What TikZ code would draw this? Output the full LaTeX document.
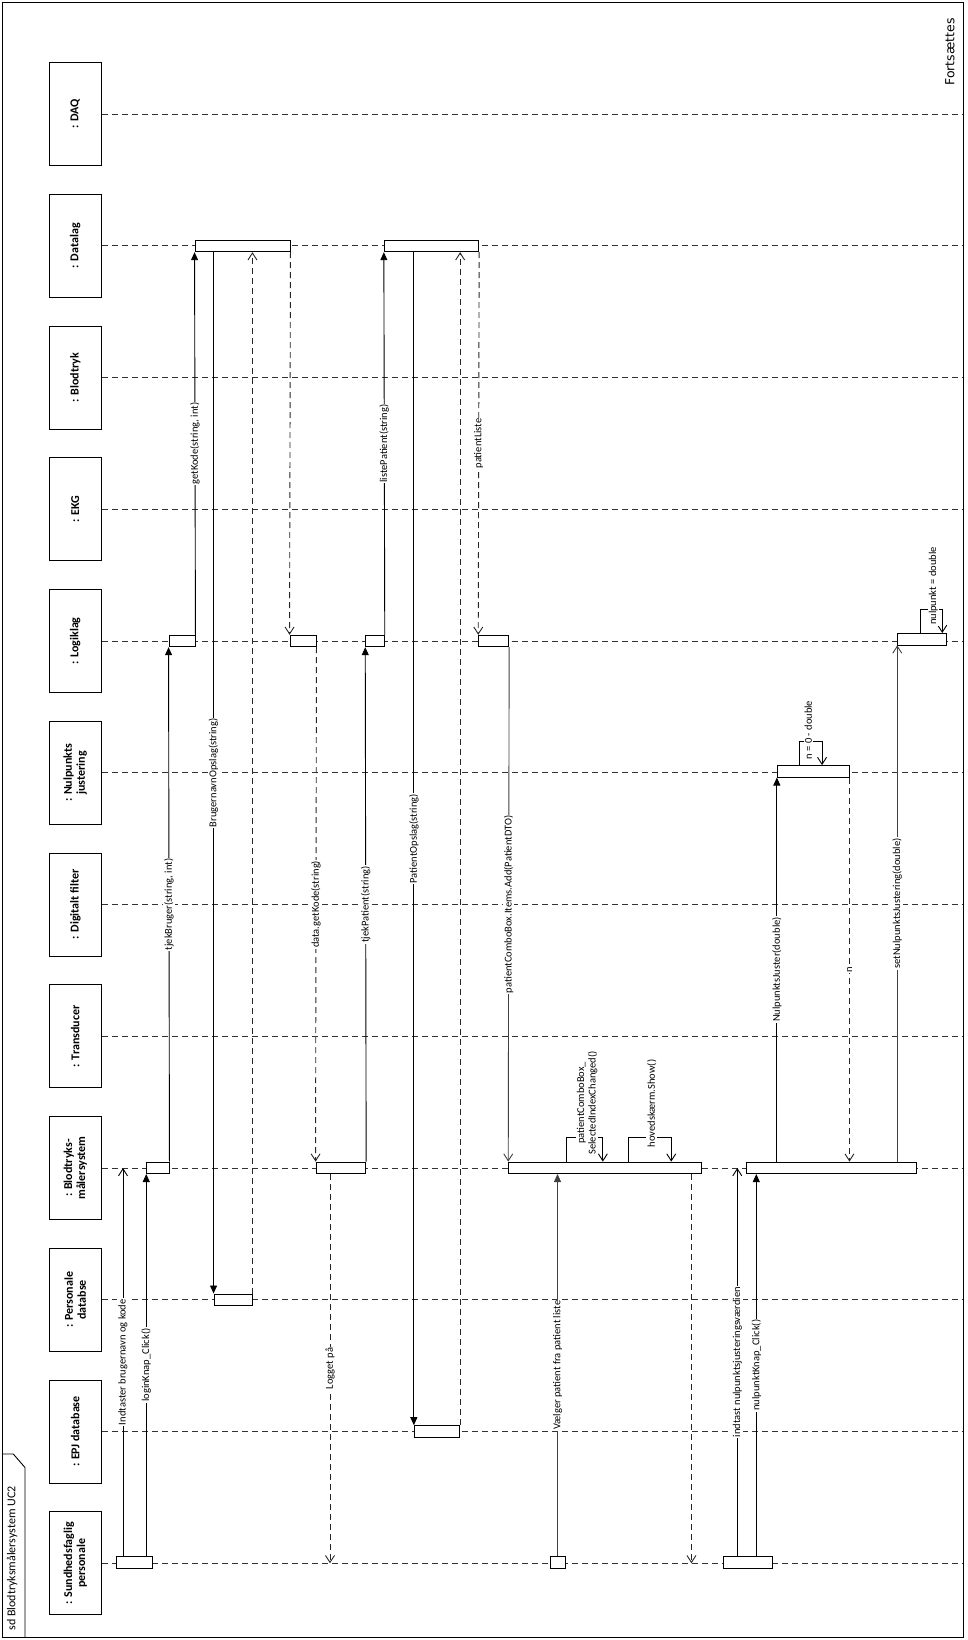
\documentclass[tikz,border=0pt]{standalone}
\usepackage{fontspec}
\setmainfont{Carlito}
\newfontfamily\notefont{DejaVu Sans}
\usetikzlibrary{arrows.meta}

\begin{document}
\begin{tikzpicture}[
    x=1pt, y=-1pt,
    line width=0.9pt,
    part/.style={draw, minimum width=52pt, minimum height=103pt, inner sep=0pt},
    ptxt/.style={rotate=90, align=center, font=\fontsize{12}{13}\selectfont\bfseries},
    life/.style={draw=black!80, dash pattern=on 6pt off 4pt},
    act/.style={draw, fill=white, minimum height=11.5pt, inner sep=0pt},
    call/.style={-{Triangle[length=8pt,width=7pt]}},
    async/.style={-{Straight Barb[length=7pt,width=9pt]}},
    reply/.style={async, draw=black!85, dash pattern=on 6pt off 4pt},
    msg/.style={rotate=90, fill=white, inner sep=1pt, font=\fontsize{10.5}{11.5}\selectfont}
]
    \useasboundingbox (0,0) rectangle (968,1640);

    \draw (2,2) rectangle (963.5,1637.5);
    \draw (2,1454) -- (13.3,1454) -- (25,1467.5) -- (25,1637.5);
    \node[rotate=90, anchor=west, inner sep=0pt, font=\fontsize{12}{13}\selectfont] (sd) at (12,1631) {sd Blodtryksmålersystem UC2};
    \node[rotate=90, font=\notefont\fontsize{12.5}{14}\selectfont] (cont) at (950,52) {Fortsættes};
    \coordinate (rgt) at (962,0);

    \node[part, label={[ptxt]center:{: DAQ}}] (daq) at (75.3,114) {};
    \node[part, label={[ptxt]center:{: Datalag}}] (dat) at (75.3,245.75) {};
    \node[part, label={[ptxt]center:{: Blodtryk}}] (blo) at (75.3,377.5) {};
    \node[part, label={[ptxt]center:{: EKG}}] (ekg) at (75.3,509.25) {};
    \node[part, label={[ptxt]center:{: Logiklag}}] (log) at (75.3,641) {};
    \node[part, label={[ptxt]center:{: Nulpunkts\\justering}}] (nul) at (75.3,772.75) {};
    \node[part, label={[ptxt]center:{: Digitalt filter}}] (dig) at (75.3,904.5) {};
    \node[part, label={[ptxt]center:{: Transducer}}] (tra) at (75.3,1036.25) {};
    \node[part, label={[ptxt]center:{: Blodtryks-\\målersystem}}] (bts) at (75.3,1168) {};
    \node[part, label={[ptxt]center:{: Personale\\databse}}] (per) at (75.3,1299.75) {};
    \node[part, label={[ptxt]center:{: EPJ database}}] (epj) at (75.3,1431.5) {};
    \node[part, label={[ptxt]center:{: Sundhedsfaglig\\personale}}] (sun) at (75.3,1563.25) {};

    \foreach \p in {daq,dat,blo,ekg,log,nul,dig,tra,bts,per,epj,sun}
        \draw[life] (\p.east) -- (\p.east -| rgt);

    \node[act, minimum width=36pt] (sun1) at (134,1562.5) {};
    \node[act, minimum width=22.3pt] (blt1) at (157.85,1167.8) {};
    \node[act, minimum width=26pt] (log1) at (182,641) {};
    \node[act, minimum width=95pt] (dat1) at (242.5,246) {};
    \node[act, minimum width=38pt] (per1) at (233,1299.7) {};
    \node[act, minimum width=26pt] (log2) at (303,641) {};
    \node[act, minimum width=49.7pt] (blt2) at (340.85,1167.8) {};
    \node[act, minimum width=18.6pt] (log3) at (375,641) {};
    \node[act, minimum width=94.4pt] (dat2) at (431.5,246) {};
    \node[act, minimum width=45.4pt] (epj1) at (437,1431.4) {};
    \node[act, minimum width=30pt] (log4) at (493.7,641) {};
    \node[act, minimum width=193pt] (blt3) at (605.2,1167.8) {};
    \node[act, minimum width=15pt] (sun2) at (557.5,1562.5) {};
    \node[act, minimum width=49pt] (sun3) at (747.5,1562.5) {};
    \node[act, minimum width=170pt] (blt4) at (831.7,1167.8) {};
    \node[act, minimum width=71.7pt] (nul1) at (813.15,771.3) {};
    \node[act, minimum width=49pt] (log5) at (922.2,639.2) {};

    \draw[async] ([xshift=-11pt]sun1.north) -- node[msg] (m1) {Indtaster brugernavn og kode} ([xshift=-11pt]sun1.north |- bts.east);
    \draw[call] (sun1.north -| blt1.west) -- node[msg] (m2) {loginKnap\_Click()} (blt1.south west);
    \draw[call] (blt1.north east) -- node[msg] (m3) {tjekBruger(string, int)} (log1.south west);
    \draw[call] (log1.north east) -- node[msg] (m4) {getKode(string, int)} (dat1.south west);
    \draw[call] (dat1.south -| per1.west) -- node[msg] (m5) {BrugernavnOpslag(string)} (per1.north west);
    \draw[reply] (per1.north east) -- (dat1.south -| per1.east);
    \draw[reply] (dat1.south east) -- (log2.north west);
    \draw[reply] (log2.south east) -- node[msg] (m8) {data.getKode(string)} (blt2.north west);
    \draw[reply] ([xshift=-10.85pt]blt2.south) -- node[msg] (m9) {Logget på} ([xshift=-10.85pt]blt2.south |- sun.east);
    \draw[call] (blt2.north east) -- node[msg] (m10) {tjekPatient(string)} (log3.south west);
    \draw[call] (log3.north east) -- node[msg] (m11) {listePatient(string)} (dat2.south west);
    \draw[call] (dat2.south -| epj1.west) -- node[msg] (m12) {PatientOpslag(string)} (epj1.north west);
    \draw[reply] (epj1.north east) -- (dat2.south -| epj1.east);
    \draw[reply] (dat2.south east) -- node[msg] (m14) {patientListe} (log4.north west);
    \draw[async, draw=black!75] (log4.south east) -- node[msg] (m15) {patientComboBox.Items.Add(PatientDTO)} (blt3.north west);
    \draw[call, draw=black!75] (sun2.north) -- node[msg] (m16) {Vælger patient fra patient liste} (blt3.south -| sun2.north);
    \draw[async] ([xshift=58.6pt]blt3.north west) -- ++(0,-24) -- ++(36,0) -- ++(0,24);
    \node[msg, align=center] (s1) at (587,1103) {patientComboBox\_\\SelectedIndexChanged()};
    \draw[async] ([xshift=120.6pt]blt3.north west) -- ++(0,-24) -- ++(42.4,0) -- ++(0,24);
    \node[msg] (s2) at (651.7,1103.5) {hovedskærm.Show()};
    \draw[reply] ([xshift=-10.7pt]blt3.south east) -- ([xshift=-10.7pt]blt3.south east |- sun.east);
    \draw[async] ([xshift=-10.2pt]sun3.north) -- node[msg] (m20) {indtast nulpunktsjusteringsværdien} ([xshift=-10.2pt]sun3.north |- bts.east);
    \draw[call] ([xshift=8.8pt]sun3.north) -- node[msg] (m21) {nulpunktKnap\_Click()} ([xshift=8.8pt]sun3.north |- blt4.south);
    \draw[call] (blt4.north -| nul1.west) -- node[msg] (m22) {NulpunktsJuster(double)} (nul1.south west);
    \draw[async] ([xshift=22.7pt]nul1.north west) -- ++(0,-24) -- ++(22.5,0) -- ++(0,24);
    \node[msg] (s3) at (808.3,730) {n = 0 - double};
    \draw[reply] (nul1.south east) -- node[msg] (m23) {n} (blt4.north -| nul1.east);
    \draw[async, draw=black!75] (blt4.north -| log5.west) -- node[msg] (m24) {setNulpunktsJustering(double)} (log5.south west);
    \draw[async] ([xshift=23pt]log5.north west) -- ++(0,-23.3) -- ++(22,0) -- ++(0,23.3);
    \node[msg] (s4) at (933.3,586) {nulpunkt = double};
\end{tikzpicture}
\end{document}
